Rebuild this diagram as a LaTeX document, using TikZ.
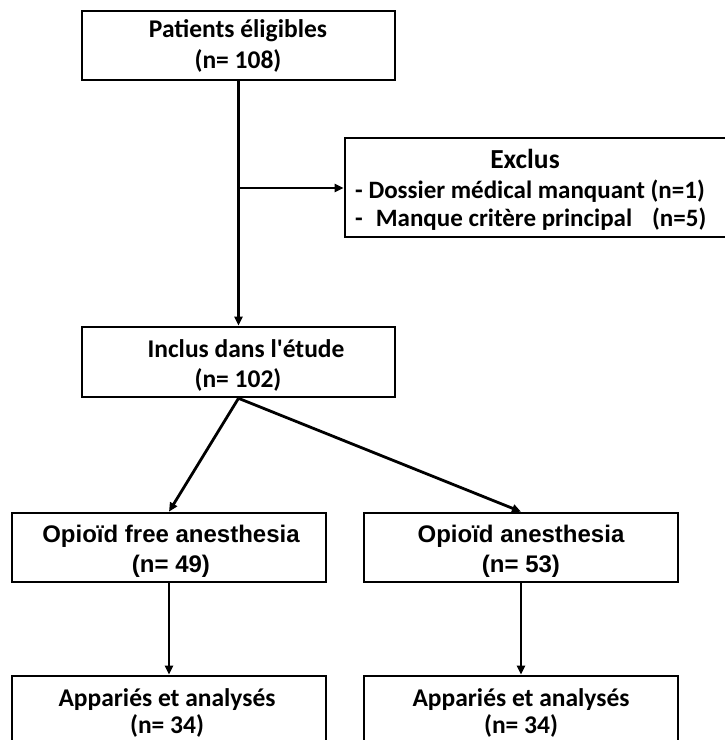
\documentclass[tikz,border=0pt]{standalone}
\usepackage{fontspec}
\setmainfont{Carlito}
\newfontfamily\arialf{Liberation Sans}
\usetikzlibrary{arrows.meta}
\begin{document}
\begin{tikzpicture}[x=1pt,y=-1pt,
  box/.style={draw, line width=2.6pt, rectangle, inner sep=0pt},
  lbl/.style={inner sep=0pt, anchor=base, font=\bfseries\fontsize{25.5}{30}\selectfont},
  llbl/.style={inner sep=0pt, anchor=base west, font=\bfseries\fontsize{25}{30}\selectfont},
  albl/.style={inner sep=0pt, anchor=base, font=\arialf\bfseries\fontsize{24}{28}\selectfont},
  arr/.style={line width=2.8pt, -{Triangle[length=9pt,width=8pt]}}]
\useasboundingbox (0,0) rectangle (725,740);
\clip (0,0) rectangle (725,740);
% boxes
\node[box, minimum width=313pt, minimum height=69pt] (top) at (238.5,45.5) {};
\node[box, minimum width=313pt, minimum height=70pt] (inc) at (238.5,362) {};
\node[box, minimum width=415pt, minimum height=99pt] (exc) at (552.5,187.5) {};
\node[box, minimum width=314pt, minimum height=69pt] (o1) at (169,547.5) {};
\node[box, minimum width=314pt, minimum height=69pt] (o2) at (521,547.5) {};
\node[box, minimum width=314pt, minimum height=114pt] (a1) at (169,733) {};
\node[box, minimum width=314pt, minimum height=114pt] (a2) at (521,733) {};
% texts
\node[lbl] (t1) at (238,37) {Patients éligibles};
\node[lbl] (t1n) at (238,68) {(n= 108)};
\node[lbl] (t2) at (246,357) {Inclus dans l\textquotesingle étude};
\node[lbl] (t2n) at (238,387) {(n= 102)};
\node[lbl, font=\bfseries\fontsize{27.5}{32}\selectfont] (te) at (525,168) {Exclus};
\node[llbl] (te1) at (355,198) {- Dossier médical manquant (n=1)};
\node[llbl] (te2) at (355,226) {-\hspace{13pt}Manque critère principal\hspace{20pt}(n=5)};
\node[albl] (to1) at (171,542) {Opioïd free anesthesia};
\node[albl] (to1n) at (171,572) {(n= 49)};
\node[albl] (to2) at (521,542) {Opioïd anesthesia};
\node[albl] (to2n) at (521,572) {(n= 53)};
\node[lbl] (ta1) at (167,706) {Appariés et analysés};
\node[lbl] (ta1n) at (167,733) {(n= 34)};
\node[lbl] (ta2) at (521,706) {Appariés et analysés};
\node[lbl] (ta2n) at (521,733) {(n= 34)};
% connectors
\coordinate (j) at (238.5,188);
\draw[arr] (top.south) -- (inc.north);
\draw[arr, line width=2.4pt] (j) -- (j -| exc.west);
\draw[arr] (inc.south) -- (o1.north);
\draw[arr] (inc.south) -- (o2.north);
\draw[arr] (o1.south) -- (a1.north);
\draw[arr] (o2.south) -- (a2.north);
\end{tikzpicture}
\end{document}
